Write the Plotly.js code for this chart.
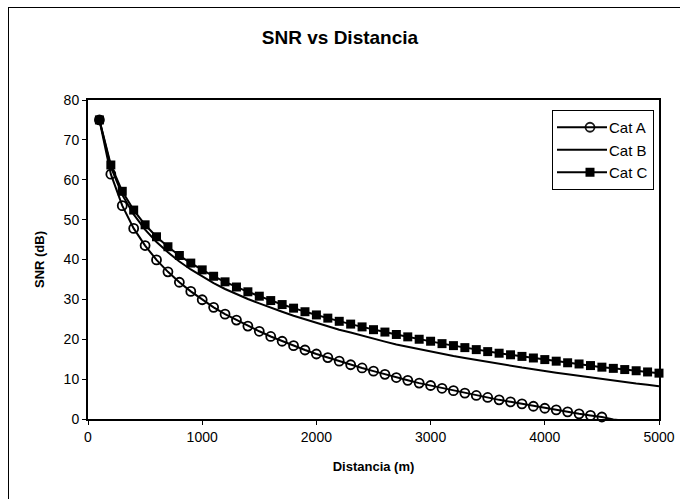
<!DOCTYPE html>
<html>
<head>
<meta charset="utf-8">
<script src="https://cdn.plot.ly/plotly-3.0.1.min.js"></script>
<style>
  html, body { margin: 0; padding: 0; background: #fff; overflow: hidden; }
  #wrap { position: relative; width: 680px; height: 499px; }
  #frame { position: absolute; left: 8px; top: 7px; width: 720px; height: 540px; border: 1px solid #000; pointer-events: none; z-index: 5; }
  #chart { position: absolute; left: 0; top: 0; width: 680px; height: 499px; }
</style>
</head>
<body>
<div id="wrap">
  <div id="chart"></div>
  <div id="frame"></div>
</div>
<script>
// Distance in metres (100 m steps)
const distancia = [100,200,300,400,500,600,700,800,900,1000,
  1100,1200,1300,1400,1500,1600,1700,1800,1900,2000,
  2100,2200,2300,2400,2500,2600,2700,2800,2900,3000,
  3100,3200,3300,3400,3500,3600,3700,3800,3900,4000,
  4100,4200,4300,4400,4500,4600,4700,4800,4900,5000];

const catA = [75.0,61.4,53.5,47.8,43.5,39.9,36.9,34.3,32.0,29.9,
  28.0,26.3,24.8,23.3,22.0,20.7,19.5,18.4,17.3,16.3,
  15.4,14.5,13.6,12.8,12.0,11.2,10.4,9.7,9.0,8.4,
  7.7,7.1,6.5,5.9,5.4,4.8,4.3,3.8,3.2,2.7,
  2.3,1.8,1.3,0.9,0.5,-0.1,-0.4,-0.8,-1.2,-1.6];

const catB = [75.0,63.2,56.2,51.3,47.5,44.4,41.8,39.5,37.5,35.7,
  34.1,32.6,31.3,30.1,29.0,27.9,26.9,25.9,25.0,24.2,
  23.3,22.4,21.7,20.9,20.2,19.4,18.7,18.1,17.5,16.9,
  16.4,15.8,15.3,14.8,14.3,13.8,13.4,12.9,12.5,12.0,
  11.6,11.2,10.8,10.4,10.0,9.7,9.3,8.9,8.6,8.2];

const catC = [75.0,63.7,57.1,52.4,48.7,45.7,43.2,41.0,39.1,37.4,
  35.8,34.4,33.1,31.9,30.8,29.7,28.7,27.8,26.9,26.1,
  25.3,24.5,23.8,23.1,22.4,21.8,21.2,20.6,20.0,19.5,
  18.9,18.4,17.9,17.4,16.9,16.5,16.1,15.7,15.3,14.9,
  14.5,14.1,13.8,13.4,13.0,12.7,12.4,12.1,11.8,11.5];

const seriesNames = ['Cat A', 'Cat B', 'Cat C'];
const xTicks = [0,1000,2000,3000,4000,5000];
const yTicks = [0,10,20,30,40,50,60,70,80];

const FONT = 'Arial, "Liberation Sans", sans-serif';

const traces = [
  {
    x: distancia, y: catA, name: seriesNames[0], type: 'scatter', mode: 'lines+markers',
    line: {color: '#000', width: 2},
    marker: {symbol: 'circle-open', size: 9, color: '#000', line: {width: 1.8, color: '#000'},
             opacity: catA.map(v => v >= 0 ? 1 : 0)},
    cliponaxis: false
  },
  {
    x: distancia, y: catB, name: seriesNames[1], type: 'scatter', mode: 'lines',
    line: {color: '#000', width: 2}
  },
  {
    x: distancia, y: catC, name: seriesNames[2], type: 'scatter', mode: 'lines+markers',
    line: {color: '#000', width: 2},
    marker: {symbol: 'square', size: 9, color: '#000'},
    cliponaxis: false
  }
];

const axisCommon = {
  showline: true, linecolor: '#000', linewidth: 2, mirror: true,
  ticks: 'outside', ticklen: 4, tickwidth: 1, tickcolor: '#000',
  showgrid: false, zeroline: false,
  tickfont: {family: FONT, size: 14, color: '#000'}
};

const layout = {
  width: 680, height: 499,
  margin: {l: 88, r: 21, t: 100, b: 80, pad: 0},
  paper_bgcolor: '#fff', plot_bgcolor: '#fff',
  font: {family: FONT, color: '#000'},
  title: {
    text: '<b>SNR vs Distancia</b>',
    font: {family: FONT, size: 19, color: '#000'},
    xref: 'container', x: 0.5, xanchor: 'center',
    yref: 'container', y: 1 - 37/499, yanchor: 'middle'
  },
  xaxis: Object.assign({}, axisCommon, {
    range: [0, 5000], tickvals: xTicks, ticktext: xTicks.map(String),
    title: {text: '<b>Distancia (m)</b>', font: {family: FONT, size: 13, color: '#000'}, standoff: 18}
  }),
  yaxis: Object.assign({}, axisCommon, {
    range: [0, 80], tickvals: yTicks, ticktext: yTicks.map(String),
    title: {text: '<b>SNR (dB)</b>', font: {family: FONT, size: 13, color: '#000'}, standoff: 16}
  }),
  showlegend: true,
  legend: {
    x: (552 - 88) / 571, xanchor: 'left',
    y: (419 - 110) / 319, yanchor: 'top',
    bgcolor: '#fff', bordercolor: '#000', borderwidth: 1,
    font: {family: FONT, size: 15, color: '#000'},
    itemwidth: 46,
    tracegroupgap: 0
  }
};

Plotly.newPlot('chart', traces, layout, {displayModeBar: false, staticPlot: true}).then(function () {
  // Longer legend line samples, as in the reference
  document.querySelectorAll('#chart .legend .legendlines path').forEach(function (p) {
    p.setAttribute('d', 'M4,0h50');
  });
  document.querySelectorAll('#chart .legend .legendpoints').forEach(function (g) {
    g.setAttribute('transform', 'translate(9,0)');
  });
});
</script>
</body>
</html>
